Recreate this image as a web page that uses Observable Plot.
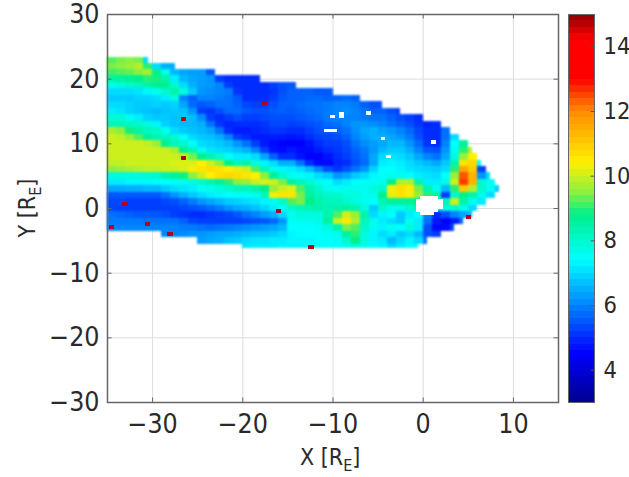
<!DOCTYPE html>
<html><head><meta charset="utf-8">
<script src="https://cdn.jsdelivr.net/npm/d3@7"></script>
<script src="https://cdn.jsdelivr.net/npm/@observablehq/plot@0.6"></script>
<style>
html,body{margin:0;padding:0;background:#fff}
#root{position:relative;width:629px;height:477px;overflow:hidden;font-family:"DejaVu Sans Condensed",sans-serif;color:#2a2a2a}
#root svg{position:absolute;left:0;top:0;background:transparent;overflow:visible}
.lab{position:absolute;font-size:23px;white-space:nowrap;line-height:1}
.lab sub{font-size:16px;vertical-align:-6px;line-height:0}
.cells{filter:blur(1.2px)}
</style></head><body><div id="root"></div>
<script>
const xTicks=[-30,-20,-10,0,10];
const yTicks=[-30,-20,-10,0,10,20,30];
const barTicks=[4,6,8,10,12,14];
const rowY=[23,22,21,20,19,18,17,16,15,14,13,12,11,10,9,8,7,6,5,4,3,2,1,0,-1,-2,-3,-4,-5,-6];
const rowStart=[-35,-35,-35,-35,-35,-35,-35,-35,-35,-35,-35,-35,-35,-35,-35,-35,-35,-35,-35,-35,-35,-35,-35,-35,-35,-35,-35,-29,-25,-20];
const rowEnd=[-30.5,-27.5,-23,-18,-14,-10,-7,-4.5,-2.5,0,2,3,4,5,5.5,6,6.5,7,7.5,8,8.5,8,7,6,5.5,4.5,3.5,2,0.5,-0.5];
const rowValues=[
[9.2,9.4,9.5,9.4,7],
[9.4,9.5,9.6,9.8,9,7,6.5,6.5],
[9.1,9.2,9.3,9.5,9.7,8.7,7.6,6.6,6.4,6.3,6.3,5.5],
[8.5,8.6,8.7,8.8,9,8.9,8.4,7.2,6.6,6.4,6.3,6.2,5.2,5,5,5,5],
[7.6,7.8,8,8.2,8.4,8.7,8.7,8,7,6.5,6.3,6.2,6,5.2,5,5,5,5,5.2,5.4,5.5],
[7,7,7,7.1,7.3,7.6,8,8.4,7.8,6.8,6.2,6.1,6,5.9,5.1,5,5,5,5.1,5.4,5.6,5.6,5.6,5.5,5.5],
[6.8,6.8,6.8,6.9,6.9,7,7.2,7.8,6,5.6,6,6,5.9,5.8,5.5,5,5,5,5.2,5.5,5.6,5.6,5.7,5.7,5.6,5.6,5.7,5.6],
[7,7,6.9,6.8,6.8,6.9,6.8,6.9,6.4,5.7,5.5,5.6,5.8,5.8,5.6,5.3,5.2,5.2,5.4,5.6,5.6,5.7,5.8,5.8,5.9,6,6,5.9,5.6,5.4,5.4],
[7.2,7.1,6.9,6.8,6.7,6.6,6.7,6.8,6.7,6.2,5.2,5.1,5.4,5.7,5.7,5.5,5.4,5.4,5.5,5.6,5.5,5.6,5.7,5.8,5.9,6,6.1,6,5.8,5.6,5.6,5.4,5.2],
[7.9,7.9,7.6,7.2,6.9,6.8,6.8,6.7,6.8,6.6,6.1,5.2,5,5.2,5.4,5.2,5.2,5.3,5.4,5.4,5.4,5.5,5.6,5.7,5.9,6,6,6,5.9,5.8,5.8,5.6,5.4,5.2,5],
[8.2,8.2,8.1,8,7.8,7.3,6.9,6.7,6.6,6.6,6.5,5.8,5.1,4.9,5,5,5,5.1,5.3,5.3,5.2,5.3,5.4,5.5,5.7,5.8,6,6.2,6.2,6.1,6,5.8,5.6,5.4,5.1,4.9,5],
[9.7,9.5,8.9,8.4,8.2,8.1,7.6,7,6.8,6.7,6.6,6.4,5.8,5,4.8,4.8,4.9,5,5.1,5.1,5,5,5.2,5.4,5.5,5.6,5.8,6.1,6.4,6.5,6.3,6.2,6,5.7,5.3,5,5,5.8],
[10,9.9,9.6,9.2,8.6,8.3,8.2,8,7.4,7,6.8,6.7,6.5,6,5.2,5,4.8,4.8,4.8,4.8,4.7,4.8,5,5.2,5.3,5.4,5.6,6,6.3,6.5,6.5,6.4,6.2,5.9,5.4,5,5,5.8,7],
[10,10,10,10,9.9,9.6,8.7,8.2,8,7.5,7,6.9,6.8,6.6,6.2,5.8,5.2,4.8,4.6,4.5,4.5,4.5,4.7,5,5.2,5.2,5.4,5.8,6.1,6.3,6.4,6.6,6.6,6.2,5.7,5.1,5,6,7.4,8.6],
[10,10,10,10,10,10,10,9.7,8.7,8.2,7.6,7.1,7,6.9,6.7,6.5,6,5.2,4.7,4.6,4.8,4.6,4.6,4.8,5,5.1,5.3,5.6,5.9,6.2,6.6,6.8,6.8,6.5,6,5.5,5.4,6.2,7.6,9,9.8],
[10,10,10,10,10,10,10,10,9.9,9.4,8.7,8.3,8,7.5,7.2,7.2,7,6.4,5.6,5,5,4.7,4.5,4.5,4.7,5,5.2,5.5,5.8,6.4,7,7.1,7,6.8,6.4,6,5.8,6.4,7.8,9.6,10.4],
[9.9,9.9,10,10,10,10,10,10.1,10.1,10.1,10.4,10,9.5,8.8,8.2,8.4,7.8,7.3,7,6.5,6.5,5.8,5,4.6,4.6,4.9,5,5.4,5.7,6.4,7.2,7.3,7.2,7,6.8,6.6,6.4,6.8,8.4,10.6,10.8,7.5],
[9.5,9.6,9.7,9.8,9.9,9.9,10,10,10.1,10.3,10.6,10.7,10.6,10.4,10.2,10,9.2,8.2,7.6,7.3,7.2,7,6.6,6,5.4,5.1,5.4,5.8,6.2,6.9,7.4,7.4,7.3,7.1,7,6.9,6.8,7,9,11.6,11,5.2],
[7.8,7.8,7.8,7.8,7.9,8,8.4,8.6,8.9,9.5,10,10.4,10.7,10.8,10.7,10.6,10.4,9.5,8.6,8,7.6,7.5,7.3,7,6.8,6.2,6.4,6.8,7,7.3,7.5,7.6,7.6,7.4,7.2,7.1,7,7.4,9.6,12.4,11.4,6.2,7],
[7.2,7.2,7.3,7.3,7.3,7.4,7.4,7.5,7.6,7.8,8,8.3,8.6,9,9.5,9.6,10,10.1,10,9.4,8.6,8.2,8,7.6,7.4,7,7.2,7.4,7.5,7.5,7.6,8.8,9.8,9.8,8.4,7.2,7.2,7.8,10,12.6,11.4,8,7.5],
[6.4,6.4,6.5,6.5,6.6,6.6,6.8,7,7.1,7.2,7.5,7.6,7.8,8,8.2,8.2,8.4,8.8,9.6,10,10.1,9.2,8.4,8,7.6,7.5,7.6,7.6,7.6,7.8,8,10.3,10.7,10.5,9.4,8.4,7.6,6.6,9,11,9.8,8,7.5,6.8],
[5.5,5.5,5.5,5.5,5.5,5.5,5.8,6.2,6.5,6.8,7,7.2,7.3,7.4,7.5,7.5,7.6,8.2,10.3,10.6,10.6,9.4,8.6,8.2,8,8,7.8,7.8,7.6,7.6,8.8,10.2,10.6,10.3,9.6,9,8.5,5.2,8,8.8,8.4,7.6,7],
[5.3,5.3,5.2,5.2,5.2,5.2,5.3,5.4,5.6,5.9,6.2,6.4,6.6,6.8,6.9,7,7.1,7.3,7.6,8,9.2,9.4,8.8,8.4,8.2,8.2,8,7.8,7.6,7.4,8.3,8.6,8.6,8.6,8.8,8,8,8.2,10,8.4,7.6,7.2],
[5.3,5.2,5.2,5.2,5.2,5.2,5.2,5.2,5.3,5.4,5.5,5.7,5.9,6.2,6.4,6.5,6.7,6.9,7.2,7.5,8,8.2,8.3,8.4,8.3,8.4,8.6,8.4,7.8,6.8,8,7.6,7.6,8,8.2,8,8,7.8,8,7.6,7],
[5.8,5.7,5.6,5.5,5.5,5.5,5.4,5.2,5.1,5,5,5.1,5.2,5.3,5.5,5.8,6,6.3,6.5,7,7.6,7.8,7.8,7.8,8.4,9.2,10,9.6,8.4,7,7.3,7.4,6.8,7.2,7.4,6,5,5.4,6,6.4,6.6],
[5.9,5.9,5.9,5.9,5.8,5.8,5.8,5.8,5.6,5.3,5.2,5.2,5.2,5.2,5.2,5.3,5.4,5.5,5.7,6.2,7.5,7.6,7.6,7.7,8.6,10,10.5,9.8,8.2,7.6,7.2,7,6.8,7.6,7.2,5.8,4.8,4.4,4.8,5.6],
[6,6,6,6,6,6,6,6,5.9,5.9,5.8,5.7,5.8,5.9,6,6.1,6.2,6.3,6.4,6.6,7.4,7.4,7.4,7.5,7.8,8.4,9.4,9.2,8,7.6,7.3,7.6,7.4,7.8,7.2,5.4,4.6,4.6,5.2],
[6,6,6.1,6.2,6.2,6.3,6.4,6.4,6.5,6.6,6.7,6.7,6.8,7,7.3,7.4,7.4,7.4,7.5,7.6,8.6,9,7.8,7.3,7,7.2,6.8,7,6.6,5.4,5.2],
[6.3,6.4,6.5,6.7,6.8,7,7.1,7.1,7.2,7.2,7.3,7.3,7.3,7.4,7.4,7.5,8,8.8,7.8,7.3,7.2,6.6,7,7.3,7,5.8],
[7.1,7.2,7.2,7.2,7.3,7.3,7.3,7.4,7.4,7.5,7.5,7.6,7.8,7.6,7.4,7.3,7,7.2,7.4,7.4]
];
const peakX=[-17.5,-26.5,-26.5,-33,-34.5,-30.5,-28,-16,-12.4,5.1];
const peakY=[16.2,13.7,7.7,0.6,-2.9,-2.5,-4,-0.4,-6,-1.4];
const gapX=[-10,-9,-9,-6,-10.7,-10.2,-9.7,-4.4,1.2,-3.8,0,0.5,1,1.5,-0.5,0,0.5,1,1.5,2,-0.5,0,0.5,1,1.5,2,-0.5,0,0.5,1,1.5,2,-0.5,0,0.5,1,1.5,0,0.5,1];
const gapY=[14.1,14.1,14.6,14.7,12,12,12,10.7,10.2,8,1.6,1.6,1.6,1.6,1.1,1.1,1.1,1.1,1.1,1.1,0.6,0.6,0.6,0.6,0.6,0.6,0.1,0.1,0.1,0.1,0.1,0.1,-0.4,-0.4,-0.4,-0.4,-0.4,-0.9,-0.9,-0.9];
const colorStops=[3,4.5,6,7.4,8.8,9.5,10.4,12,13,14.2,15];
const colorRange=["#00008f","#0000ff","#0084ff","#00ffff","#00f08a","#8cf040","#fff000","#ff8c00","#ff0000","#ff0000","#8f0000"];
const barLevels=[3,3.2,3.4,3.6,3.8,4,4.2,4.4,4.6,4.8,5,5.2,5.4,5.6,5.8,6,6.2,6.4,6.6,6.8,7,7.2,7.4,7.6,7.8,8,8.2,8.4,8.6,8.8,9,9.2,9.4,9.6,9.8,10,10.2,10.4,10.6,10.8,11,11.2,11.4,11.6,11.8,12,12.2,12.4,12.6,12.8,13,13.2,13.4,13.6,13.8,14,14.2,14.4,14.6,14.8];

const cells=[];
rowY.forEach((y,i)=>rowValues[i].forEach((v,j)=>{
  const x1=rowStart[i]+j;
  cells.push({x1,x2:Math.min(x1+1,rowEnd[i]),y1:Math.max(y-0.5,-6.2),y2:Math.min(y+0.5,23.4),v});
}));
const half=(xs,ys,r)=>xs.map((x,i)=>({x1:x-r,x2:x+r,y1:ys[i]-r,y2:ys[i]+r}));
const ink="#2a2a2a",frame="#666";
const colorOpt={type:"linear",domain:colorStops,range:colorRange,clamp:true};
const main=Plot.plot({
  width:629,height:477,marginLeft:107,marginRight:71,marginTop:14,marginBottom:75,
  style:{fontFamily:"DejaVu Sans Condensed",fontSize:"26.5px",color:ink,background:"transparent"},
  x:{domain:[-35,15]},y:{domain:[-30,30]},color:colorOpt,
  marks:[
    Plot.ruleX(xTicks,{stroke:"#ddd"}),
    Plot.ruleY(yTicks.slice(1,-1),{stroke:"#ddd"}),
    Plot.rect(cells,{x1:"x1",x2:"x2",y1:"y1",y2:"y2",fill:"v",shapeRendering:"crispEdges",className:"cells"}),
    Plot.rect(half(gapX,gapY,0.25),{x1:"x1",x2:"x2",y1:"y1",y2:"y2",fill:"white",shapeRendering:"crispEdges"}),
    Plot.rect(half(peakX,peakY,0.3),{x1:"x1",x2:"x2",y1:"y1",y2:"y2",fill:"#b4001e",shapeRendering:"crispEdges"}),
    Plot.ruleX(xTicks,{y1:-30,y2:-29.3,stroke:frame}),
    Plot.ruleX(xTicks,{y1:29.3,y2:30,stroke:frame}),
    Plot.ruleY(yTicks,{x1:-35,x2:-34.5,stroke:frame}),
    Plot.ruleY(yTicks,{x1:14.5,x2:15,stroke:frame}),
    Plot.frame({stroke:frame,strokeWidth:1.5}),
    Plot.axisX(xTicks,{tickSize:0,tickPadding:12,label:null,fontSize:26.5}),
    Plot.axisY(yTicks,{tickSize:0,tickPadding:8,label:null,fontSize:26.5})
  ]
});
const bar=Plot.plot({
  width:629,height:477,marginLeft:568,marginRight:35,marginTop:14,marginBottom:75,
  style:{fontFamily:"DejaVu Sans Condensed",fontSize:"23.5px",color:ink,background:"transparent"},
  x:{domain:[0,1],axis:null},y:{domain:[3,15]},color:colorOpt,
  marks:[
    Plot.rect(barLevels,{x1:0,x2:1,y1:d=>d,y2:d=>d+0.2,fill:d=>d+0.1,shapeRendering:"crispEdges"}),
    Plot.ruleY(barTicks,{x1:0.87,x2:1,stroke:"#555"}),
    Plot.frame({stroke:frame}),
    Plot.axisY(barTicks,{anchor:"right",tickSize:0,tickPadding:9,label:null,fontSize:23.5})
  ]
});
const root=document.getElementById("root");
root.append(main,bar);
const xl=document.createElement("div");xl.className="lab";xl.innerHTML="X [R<sub>E</sub>]";
xl.style.cssText="left:300px;top:446px";root.append(xl);
const yl=document.createElement("div");yl.className="lab";yl.innerHTML="Y [R<sub>E</sub>]";
yl.style.cssText="left:27px;top:208px;transform:translate(-50%,-50%) rotate(-90deg)";root.append(yl);
</script></body></html>
